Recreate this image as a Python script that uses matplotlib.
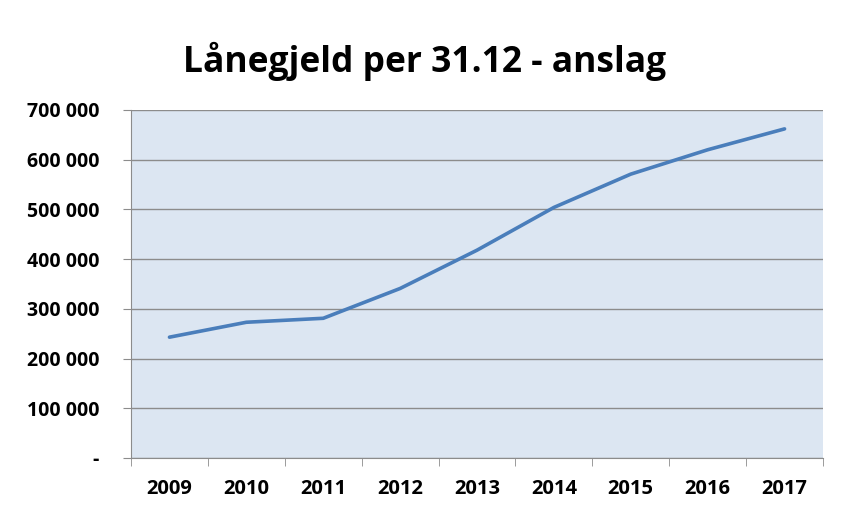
"""
Lånegjeld per 31.12 - anslag
"""

import matplotlib
matplotlib.use('agg')

import matplotlib.pyplot as plt
from matplotlib.ticker import FuncFormatter, FixedLocator

# ------------- data ---------------------------------
years = ['2009', '2010', '2011', '2012', '2013', '2014', '2015', '2016', '2017']
debt = [243000, 273000, 281000, 341000, 418000, 504000, 571000, 620000, 662000]
y_ticks = [0, 100000, 200000, 300000, 400000, 500000, 600000, 700000]


def fmt(v, pos):
    if v == 0:
        return '-'
    return '{:,.0f}'.format(v).replace(',', ' ')


# ----------- figure setup --------------------------------
plt.rcParams['font.family'] = ['Open Sans', 'DejaVu Sans']
plt.rcParams['font.weight'] = 'bold'

fig = plt.figure(figsize=(8.41, 5.14), dpi=100)
ax = fig.add_axes([0.1558, 0.109, 0.8228, 0.677])
ax.set_facecolor('#dce6f2')

x = list(range(len(years)))
ax.plot(x, debt, color='#4a7ebb', linewidth=2.6, solid_capstyle='round')

ax.set_xlim(-0.5, len(years) - 0.5)
ax.set_ylim(0, 700000)
ax.set_yticks(y_ticks)
ax.yaxis.set_major_formatter(FuncFormatter(fmt))
ax.grid(True, axis='y', color='#8c8c8c', linewidth=1.0)
ax.set_axisbelow(True)

# category labels centered, tick marks between categories
ax.set_xticks(x)
ax.set_xticklabels(years)
ax.xaxis.set_minor_locator(FixedLocator([i - 0.5 for i in range(len(years) + 1)]))
ax.tick_params(axis='x', which='major', length=0, pad=15, labelsize=14.5)
ax.tick_params(axis='x', which='minor', length=6, color='#8c8c8c', direction='out')
ax.tick_params(axis='y', length=6, color='#8c8c8c', pad=17, labelsize=14)

for side in ['top', 'right']:
    ax.spines[side].set_visible(False)
for side in ['left', 'bottom']:
    ax.spines[side].set_color('#8c8c8c')

fig.text(0.505, 0.88, 'Lånegjeld per 31.12 - anslag', ha='center', va='center',
         fontsize=25.5, fontweight='bold')

plt.savefig('out.png', dpi=100)
